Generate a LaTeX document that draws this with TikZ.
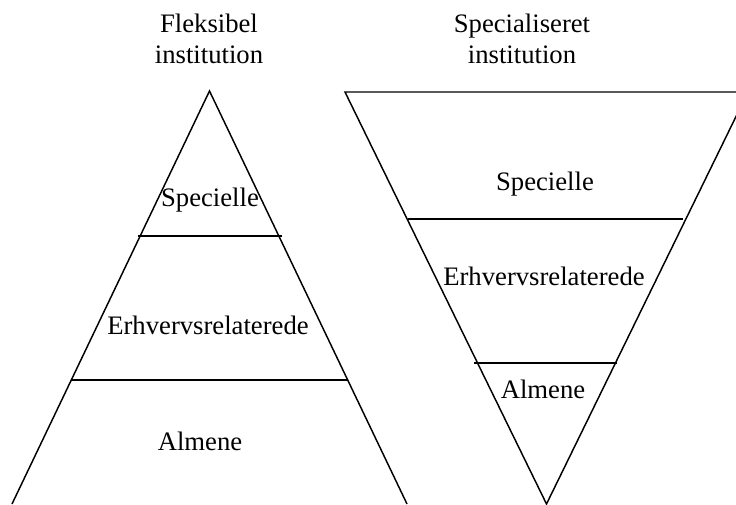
\documentclass[tikz,border=0pt]{standalone}
\usepackage{fontspec}
\setmainfont{Liberation Serif}
\begin{document}
\begin{tikzpicture}[x=0.75pt,y=-0.75pt,
  edge/.style={line width=1.1pt,line join=miter},
  lbl/.style={anchor=base,inner sep=0pt,font=\fontsize{20}{24}\selectfont}]
\useasboundingbox (0,0) rectangle (736,504);
% flexible institution: upright triangle
\coordinate (la) at (209.5,91);
\coordinate (ll) at (12,504);
\coordinate (lr) at (407,504);
\draw[edge] (ll) -- (la) -- (lr);
\coordinate (l1a) at (138,236);
\coordinate (l1b) at (282,236);
\coordinate (l2a) at (72,380);
\coordinate (l2b) at (347,380);
\draw[edge] (l1a) -- (l1b);
\draw[edge] (l2a) -- (l2b);
% specialised institution: inverted triangle
\coordinate (rl) at (345,92);
\coordinate (rr) at (748,92);
\coordinate (ra) at (546.5,504);
\draw[edge] (rr) -- (rl) -- (ra) -- (rr);
\coordinate (r1a) at (408,219);
\coordinate (r1b) at (683,219);
\coordinate (r2a) at (474,363);
\coordinate (r2b) at (617,363);
\draw[edge] (r1a) -- (r1b);
\draw[edge] (r2a) -- (r2b);
% titles
\node[lbl] (t1a) at (209,32) {Fleksibel};
\node[lbl] (t1b) at (209,63) {institution};
\node[lbl] (t2a) at (522,32) {Specialiseret};
\node[lbl] (t2b) at (522,63) {institution};
% layer labels
\node[lbl] (ls) at (210,206) {Specielle};
\node[lbl] (le) at (208,334) {Erhvervsrelaterede};
\node[lbl] (lm) at (200,450) {Almene};
\node[lbl] (rs) at (545,190) {Specielle};
\node[lbl] (re) at (544,285) {Erhvervsrelaterede};
\node[lbl] (rm) at (543,398) {Almene};
\end{tikzpicture}
\end{document}
